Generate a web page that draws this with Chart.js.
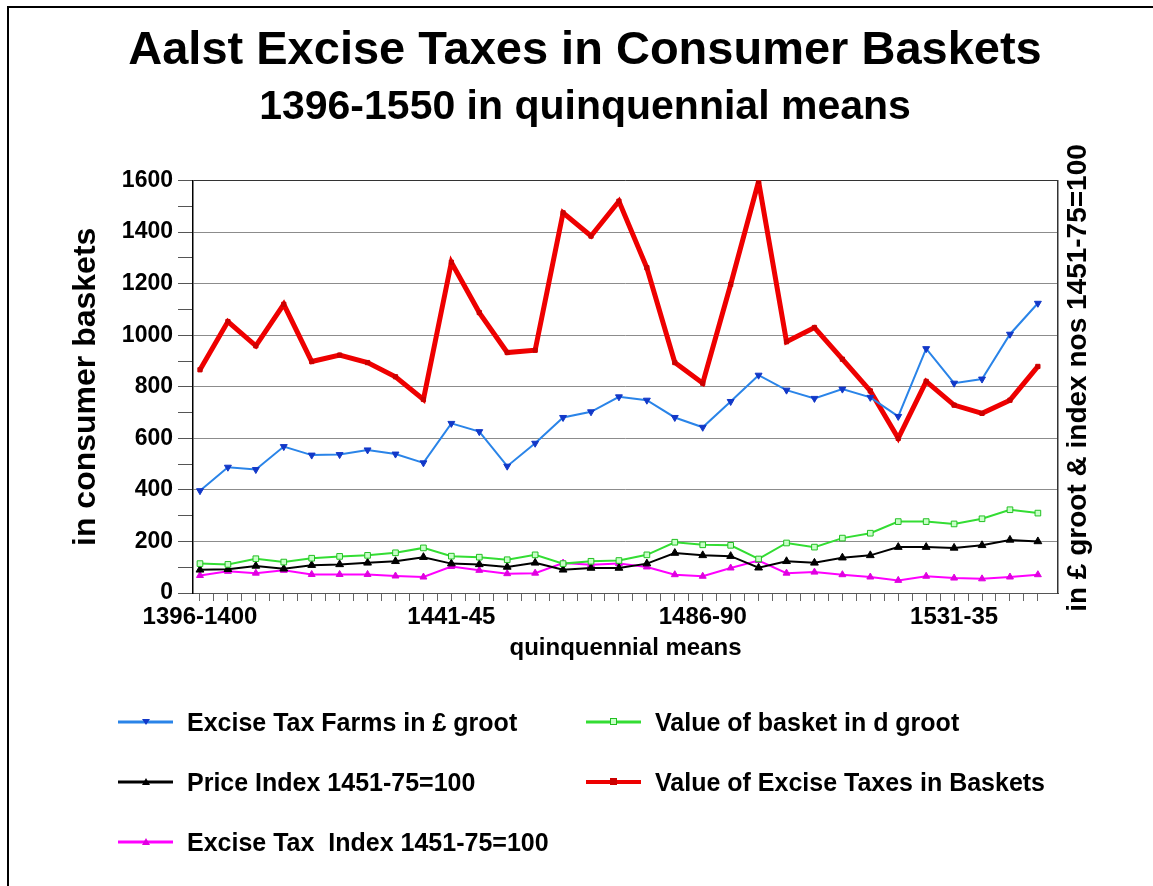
<!DOCTYPE html>
<html>
<head>
<meta charset="utf-8">
<script src="https://cdn.jsdelivr.net/npm/chart.js@4.4.1/dist/chart.umd.min.js"></script>
<style>
  html, body { margin: 0; padding: 0; background: #fff; }
  #wrap { position: relative; width: 1153px; height: 886px; overflow: hidden; }
  #frame { position: absolute; left: 7px; top: 6px; width: 1200px; height: 1000px;
           border-left: 2px solid #000; border-top: 2px solid #000; pointer-events: none; }
  #legend { position: absolute; left: 0; top: 0; width: 1153px; height: 886px; pointer-events: none;
            font-family: 'Liberation Sans', Arial, sans-serif; font-weight: bold; font-size: 25px; color: #000; }
  .item { position: absolute; display: flex; align-items: center; height: 30px; white-space: pre; }
  .item svg { margin-right: 14px; }
</style>
</head>
<body>
<div id="wrap">
  <canvas id="c" width="1153" height="886"></canvas>
  <div id="frame"></div>
  <div id="legend"></div>
</div>
<script>
// ---- data ----
const periods = ["1396-1400","1401-05","1406-10","1411-15","1416-20","1421-25","1426-30","1431-35","1436-40",
  "1441-45","1446-50","1451-55","1456-60","1461-65","1466-70","1471-75","1476-80","1481-85",
  "1486-90","1491-95","1496-1500","1501-05","1506-10","1511-15","1516-20","1521-25","1526-30",
  "1531-35","1536-40","1541-45","1546-50"];
const labelEvery = 9;
const exciseTaxFarms = [397,488,479,568,535,537,555,539,505,658,626,492,581,681,703,761,748,681,643,743,845,787,755,791,759,685,948,814,830,1004,1124];
const basketValue = [114,111,133,120,135,142,146,156,175,143,139,129,148,114,123,126,148,197,187,185,132,194,178,213,232,277,277,268,288,323,310];
const priceIndex = [90,92,105,94,108,111,117,123,139,114,111,101,117,90,97,97,114,155,146,143,98,123,117,137,146,178,178,175,185,206,200];
const taxesInBaskets = [866,1053,959,1120,898,923,894,839,751,1283,1088,933,942,1475,1385,1520,1262,894,814,1197,1597,975,1030,907,784,600,821,729,697,748,879];
const exciseTaxIndex = [68,84,77,88,72,72,72,66,62,103,88,75,77,116,110,114,101,71,65,97,126,77,81,71,62,49,65,58,55,62,71];
const yTicks = { min: 0, max: 1600, step: 100, labelStep: 200 };

const FONT = "'Liberation Sans', Arial, sans-serif";
const pts = arr => arr.map((v, i) => ({ x: i, y: v }));

const series = [
  { label: "Excise Tax Farms in £ groot", data: exciseTaxFarms, color: "#2a84e8", mark: "#1238c8", style: "triangle", rot: 180, r: 4, w: 2, col: 0, row: 0 },
  { label: "Value of basket in d groot", data: basketValue, color: "#33dd33", mark: "#22c022", fill: "#c8ffc8", style: "rect", rot: 0, r: 4, w: 2, col: 1, row: 0 },
  { label: "Price Index 1451-75=100", data: priceIndex, color: "#000000", mark: "#000000", style: "triangle", rot: 0, r: 4.5, w: 2, col: 0, row: 1 },
  { label: "Value of Excise Taxes in Baskets", data: taxesInBaskets, color: "#ee0000", mark: "#cc0000", style: "rect", rot: 0, r: 3, w: 5, col: 1, row: 1 },
  { label: "Excise Tax  Index 1451-75=100", data: exciseTaxIndex, color: "#ff00ff", mark: "#e000e0", style: "triangle", rot: 0, r: 4, w: 2, col: 0, row: 2 }
];

const rightTitle = {
  id: 'rightTitle',
  afterDraw(chart) {
    const ctx = chart.ctx;
    ctx.save();
    ctx.translate(1078, 378);
    ctx.rotate(-Math.PI / 2);
    ctx.font = "bold 28px " + FONT;
    ctx.fillStyle = "#000";
    ctx.textAlign = "center";
    ctx.textBaseline = "middle";
    ctx.fillText("in £ groot & index nos 1451-75=100", 0, 0);
    ctx.restore();
  }
};

const PADL = 20, PADR = 3, AXL = 193, AXR = 1058;

new Chart(document.getElementById('c'), {
  type: 'line',
  data: {
    datasets: series.map(s => ({
      label: s.label,
      data: pts(s.data),
      borderColor: s.color,
      backgroundColor: s.fill || s.mark,
      borderWidth: s.w,
      pointStyle: s.style,
      rotation: s.rot,
      pointRadius: s.r,
      pointBorderColor: s.mark,
      pointBackgroundColor: s.fill || s.mark,
      pointBorderWidth: 1,
      tension: 0,
      fill: false
    }))
  },
  options: {
    responsive: false,
    animation: false,
    events: [],
    layout: { padding: { left: PADL, right: PADR, top: 0, bottom: 213 } },
    plugins: {
      legend: { display: false },
      tooltip: { enabled: false },
      title: {
        display: true,
        text: "Aalst Excise Taxes in Consumer Baskets",
        color: "#000",
        font: { family: FONT, size: 47, weight: 'bold' },
        padding: { top: 23, bottom: 0 }
      },
      subtitle: {
        display: true,
        text: "1396-1550 in quinquennial means",
        color: "#000",
        font: { family: FONT, size: 41, weight: 'bold' },
        padding: { top: 4, bottom: 48 }
      }
    },
    scales: {
      x: {
        type: 'linear',
        min: -0.25,
        max: 30.72,
        afterFit: s => { s.height = 80; },
        afterBuildTicks: s => {
          const t = [];
          for (let i = 0; i <= (periods.length - 1) * 2; i++) t.push({ value: i / 2 });
          s.ticks = t;
        },
        border: { display: true, color: '#555', width: 1 },
        grid: { drawOnChartArea: false, drawTicks: true, tickLength: 8, tickColor: '#666' },
        ticks: {
          autoSkip: false,
          maxRotation: 0,
          padding: 2,
          color: '#000',
          font: { family: FONT, size: 24, weight: 'bold' },
          callback: v => {
            const r = Math.round(v);
            if (Math.abs(v - r) < 1e-6 && r >= 0 && r < periods.length && r % labelEvery === 0) return periods[r];
            return '';
          }
        },
        title: {
          display: true,
          text: "quinquennial means",
          color: '#000',
          font: { family: FONT, size: 24, weight: 'bold' },
          padding: { top: 0, bottom: 10 }
        }
      },
      y: {
        position: 'left',
        min: yTicks.min,
        max: yTicks.max,
        afterFit: s => { s.width = AXL - PADL; },
        border: { display: true, color: '#000', width: 1.5 },
        grid: {
          color: c => (c.tick && c.tick.value % yTicks.labelStep === 0) ? (c.tick.value === yTicks.max ? '#333' : '#8c8c8c') : 'rgba(0,0,0,0)',
          tickColor: '#555',
          tickLength: 15,
          lineWidth: 1
        },
        ticks: {
          stepSize: yTicks.step,
          autoSkip: false,
          padding: 5,
          color: '#000',
          font: { family: FONT, size: 23, weight: 'bold' },
          callback: v => (v % yTicks.labelStep === 0 ? String(v) : '')
        },
        title: {
          display: true,
          text: "in consumer baskets",
          color: '#000',
          font: { family: FONT, size: 32, weight: 'bold' },
          padding: { top: 47, bottom: 0 }
        }
      },
      y2: {
        position: 'right',
        min: yTicks.min,
        max: yTicks.max,
        afterFit: s => { s.width = (1153 - PADR) - AXR; },
        border: { display: true, color: '#333', width: 1.5 },
        grid: { drawOnChartArea: false, drawTicks: false },
        ticks: { display: false }
      }
    }
  },
  plugins: [rightTitle]
});

// ---- HTML legend ----
const legend = document.getElementById('legend');
const colX = [118, 586];
const rowY = [722, 782, 842];
series.forEach(s => {
  const d = document.createElement('div');
  d.className = 'item';
  d.style.left = colX[s.col] + 'px';
  d.style.top = (rowY[s.row] - 15) + 'px';
  let marker = '';
  if (s.style === 'rect') {
    marker = `<rect x="24.5" y="3.5" width="6" height="6" fill="${s.fill || s.mark}" stroke="${s.mark}" stroke-width="1"/>`;
  } else if (s.rot === 180) {
    marker = `<polygon points="24,4 32,4 28,10" fill="${s.mark}"/>`;
  } else {
    marker = `<polygon points="24,10 32,10 28,3" fill="${s.mark}"/>`;
  }
  d.innerHTML = `<svg width="55" height="14" viewBox="0 0 55 14"><line x1="0" y1="7" x2="55" y2="7" stroke="${s.color}" stroke-width="${s.w > 3 ? 4 : 3}"/>${marker}</svg><span>${s.label}</span>`;
  legend.appendChild(d);
});
</script>
</body>
</html>
